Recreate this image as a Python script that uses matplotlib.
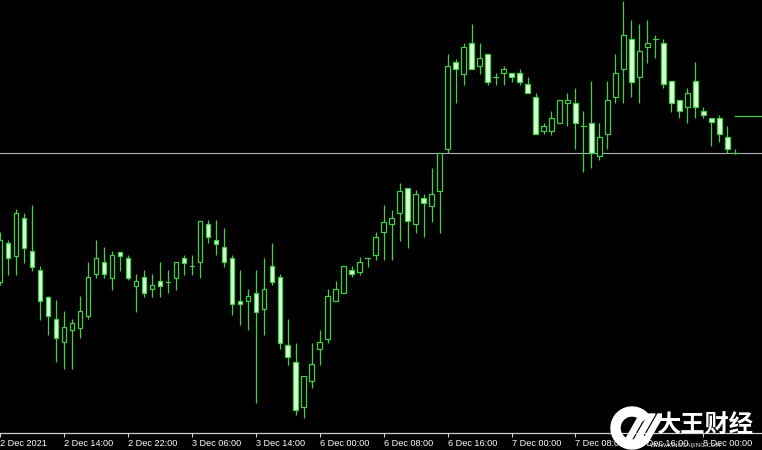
import matplotlib.pyplot as plt
from matplotlib.patches import Rectangle, Wedge, Polygon

# H1 candles, 2 Dec 06:00 -> 8 Dec (points above the time axis)
opens = [151, 190, 177, 215, 182, 163, 136, 114, 91, 103,
         105, 117, 159, 171, 155, 181, 175, 147, 156, 144,
         152, 151, 155, 175, 167, 171, 209, 193, 186, 175,
         132, 132, 140, 124, 167, 156, 88, 71, 26, 52,
         84, 94, 132, 140, 163, 161, 175, 178, 201, 209,
         220, 245, 209, 235, 227, 242, 284, 371, 359, 390,
         367, 379, 356, 360, 360, 360, 349, 336, 302, 302,
         310, 330, 330, 307, 310, 277, 299, 336, 364, 394,
         356, 386, 394, 390, 352, 333, 326, 352, 322, 315,
         315, 296, 280]
highs = [201, 193, 224, 220, 228, 167, 137, 133, 122, 114,
         137, 171, 193, 186, 182, 181, 178, 159, 163, 159,
         171, 163, 171, 178, 178, 212, 213, 213, 205, 178,
         163, 144, 163, 175, 190, 159, 114, 90, 57, 90,
         103, 144, 152, 167, 167, 176, 175, 201, 228, 223,
         250, 245, 243, 239, 265, 280, 379, 374, 390, 409,
         390, 379, 360, 367, 360, 364, 356, 340, 310, 322,
         333, 340, 345, 322, 352, 310, 352, 379, 432, 413,
         409, 413, 398, 394, 352, 333, 345, 371, 326, 315,
         318, 307, 284]
lows = [148, 158, 158, 170, 162, 113, 98, 71, 64, 64,
        95, 114, 155, 155, 143, 162, 153, 121, 136, 136,
        136, 140, 143, 158, 158, 155, 190, 178, 166, 118,
        108, 103, 30, 98, 148, 84, 68, 18, 15, 45,
        68, 90, 132, 140, 156, 158, 166, 173, 173, 173,
        192, 185, 200, 196, 211, 200, 280, 330, 348, 364,
        359, 348, 348, 348, 351, 348, 340, 299, 299, 298,
        310, 307, 284, 261, 265, 273, 284, 330, 330, 336,
        330, 370, 375, 345, 321, 315, 310, 315, 315, 287,
        291, 280, 279]
closes = [193, 175, 220, 185, 166, 132, 117, 95, 106, 110,
          122, 156, 175, 159, 178, 177, 155, 152, 140, 148,
          147, 151, 171, 170, 167, 212, 196, 189, 171, 129,
          129, 137, 121, 144, 151, 90, 76, 23, 57, 69,
          91, 137, 144, 167, 159, 171, 175, 196, 211, 215,
          242, 212, 239, 230, 239, 280, 367, 364, 386, 364,
          375, 351, 356, 364, 356, 351, 340, 299, 307, 315,
          333, 333, 310, 307, 280, 296, 333, 360, 398, 351,
          382, 390, 394, 349, 330, 322, 340, 326, 318, 311,
          299, 284, 280]

tick_labels = ['2 Dec 2021', '2 Dec 14:00', '2 Dec 22:00', '3 Dec 06:00',
               '3 Dec 14:00', '6 Dec 00:00', '6 Dec 08:00', '6 Dec 16:00',
               '7 Dec 00:00', '7 Dec 08:00', '7 Dec 16:00', '8 Dec 00:00']
bid_level = 280
line_level = 317

line_col = '#3fd23f'
bear_fill = '#d9ffd9'

fig = plt.figure(figsize=(7.62, 4.5), dpi=100, facecolor='black')
ax = fig.add_axes([0, 17 / 450, 1, 433 / 450], facecolor='black')

bw = 0.56
for i, (o, h, l, c) in enumerate(zip(opens, highs, lows, closes)):
    ax.plot([i, i], [l, h], color=line_col, lw=0.9, zorder=2, solid_capstyle='butt')
    lo, hi = min(o, c), max(o, c)
    if hi - lo < 1:
        ax.plot([i - bw / 2, i + bw / 2], [o, o], color=line_col, lw=0.9, zorder=3)
    else:
        face = bear_fill if c < o else 'black'
        ax.add_patch(Rectangle((i - bw / 2, lo), bw, hi - lo, facecolor=face,
                               edgecolor=line_col, lw=0.9, zorder=3))

ax.axhline(bid_level, color='#b0b0c0', lw=0.8, zorder=1)
ax.plot([92, 96], [line_level, line_level], color=line_col, lw=0.9)

ax.set_xlim(0.7 / 8, 762.7 / 8)
ax.set_ylim(0, 433)
for s in ['top', 'right', 'left']:
    ax.spines[s].set_visible(False)
ax.spines['bottom'].set_color('#d0d0d0')
ax.spines['bottom'].set_linewidth(0.9)
ax.set_yticks([])
ax.set_xticks(range(0, 96, 8))
ax.set_xticklabels(tick_labels, ha='left', fontsize=6.6, color='white',
                   family='Liberation Sans')
ax.tick_params(axis='x', direction='out', length=3, width=0.8, color='#d0d0d0', pad=1.5)

# watermark bottom right
lax = fig.add_axes([606 / 762, 0, 56 / 762, 46 / 450])
lax.set_xlim(0, 56)
lax.set_ylim(0, 46)
lax.axis('off')
lax.add_patch(Wedge((26, 22), 21, 35, 325, width=9, color='white'))
for dx in [0, 9, 18]:
    lax.add_patch(Polygon([(18 + dx, 8), (24 + dx, 8), (40 + dx, 36), (34 + dx, 36)],
                          closed=True, color='white'))
fig.text(656 / 762, 1 - 426 / 450, '大王财经', color='white', fontsize=17.5, fontweight='bold',
         family=['Noto Sans CJK SC', 'DejaVu Sans'], va='center', ha='left')
fig.text(650 / 762, 1 - 446 / 450, 'WWW.KINGCAIJING.COM', color='#e0e0e0', fontsize=4.2,
         family='DejaVu Sans', va='center', ha='left')

fig.savefig('out.png', dpi=100, facecolor='black')
